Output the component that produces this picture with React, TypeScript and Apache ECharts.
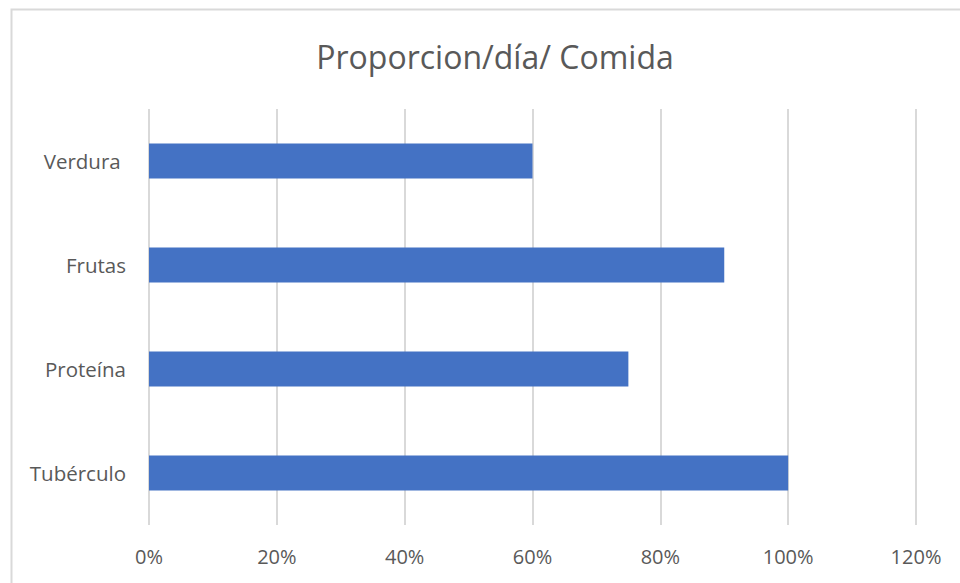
import React, { useEffect, useRef } from "react";
import * as echarts from "echarts";

const categories = ["Verdura ", "Frutas", "Proteína", "Tubérculo"];
const values = [0.6, 0.9, 0.75, 1.0];
const titleText = "Proporcion/día/ Comida";

export default function App() {
  const ref = useRef<HTMLDivElement>(null);
  useEffect(() => {
    const chart = echarts.init(ref.current!, undefined, { renderer: "svg" });
    const font = "'Open Sans', sans-serif";
    chart.setOption({
      animation: false,
      backgroundColor: "#ffffff",
      title: {
        text: titleText,
        left: 490,
        top: 35,
        textAlign: "center",
        textStyle: { fontFamily: font, fontSize: 32, fontWeight: "normal", color: "#595959" },
      },
      graphic: [
        {
          type: "rect",
          shape: { x: 11.5, y: 9.5, width: 1000, height: 1000 },
          style: { fill: "none", stroke: "#d9d9d9", lineWidth: 2 },
          silent: true,
        },
      ],
      grid: { left: 149, right: 44, top: 109, bottom: 58 },
      xAxis: {
        type: "value",
        min: 0,
        max: 1.2,
        interval: 0.2,
        axisLine: { show: false },
        axisTick: { show: false },
        splitLine: { lineStyle: { color: "#d9d9d9", width: 2 } },
        axisLabel: {
          formatter: (v: number) => Math.round(v * 100) + "%",
          fontFamily: font,
          fontSize: 20,
          color: "#595959",
          margin: 21,
        },
      },
      yAxis: {
        type: "category",
        data: categories,
        inverse: true,
        axisLine: { show: false },
        axisTick: { show: false },
        splitLine: { show: false },
        axisLabel: { fontFamily: font, fontSize: 20.5, color: "#595959", margin: 23 },
      },
      series: [
        {
          type: "bar",
          data: values,
          barWidth: 35,
          itemStyle: { color: "#4472C4" },
        },
      ],
    });
    return () => chart.dispose();
  }, []);
  return (
    <div
      ref={ref}
      style={{ position: "fixed", left: 0, top: 0, width: 960, height: 583 }}
    />
  );
}
